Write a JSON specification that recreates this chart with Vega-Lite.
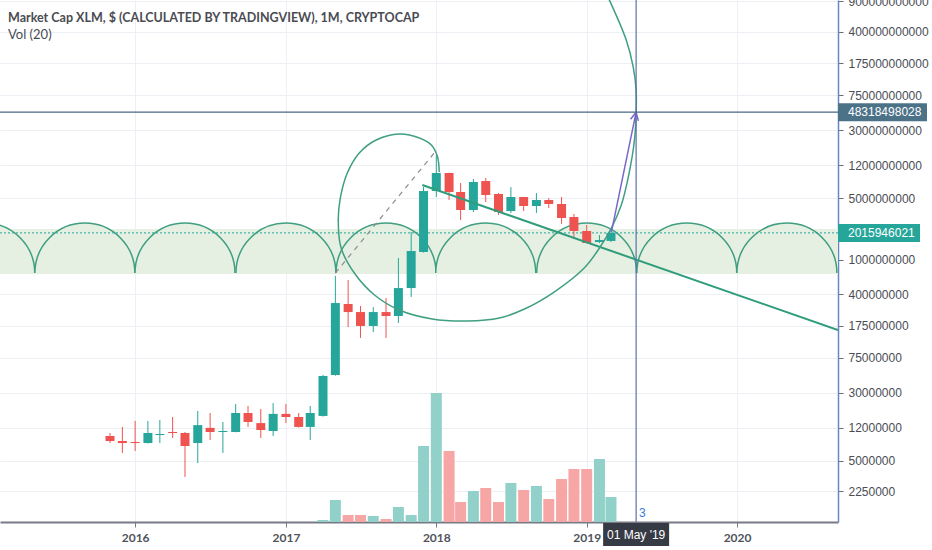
{
  "$schema": "https://vega.github.io/schema/vega-lite/v6.json",
  "width": 838,
  "height": 522,
  "autosize": "none",
  "padding": {"left": 0, "top": 0, "right": 94, "bottom": 28},
  "background": "white",
  "title": {
    "text": "Market Cap XLM, $ (CALCULATED BY TRADINGVIEW), 1M, CRYPTOCAP",
    "subtitle": "Vol (20)",
    "anchor": "start",
    "frame": "group",
    "offset": -47,
    "dx": 8,
    "font": "Lato",
    "fontSize": 12.5,
    "fontWeight": "bold",
    "color": "#4a4c52",
    "subtitleFont": "Lato",
    "subtitleFontSize": 13,
    "subtitleColor": "#4a4c52",
    "subtitlePadding": 5
  },
  "config": {
    "view": {"stroke": null},
    "axis": {"gridColor": "#eceff4", "gridWidth": 1}
  },
  "datasets": {
    "candles": [
      {"date": "2015-11-01", "open": 9610000, "high": 10400000, "low": 7990000, "close": 8430000, "volume": null},
      {"date": "2015-12-01", "open": 8430000, "high": 12200000, "low": 6150000, "close": 7990000, "volume": null},
      {"date": "2016-01-01", "open": 8210000, "high": 14300000, "low": 6480000, "close": 7990000, "volume": null},
      {"date": "2016-02-01", "open": 7990000, "high": 14300000, "low": 7900000, "close": 10400000, "volume": null},
      {"date": "2016-03-01", "open": 9870000, "high": 14650000, "low": 7990000, "close": 10130000, "volume": null},
      {"date": "2016-04-01", "open": 10680000, "high": 15850000, "low": 9120000, "close": 10400000, "volume": null},
      {"date": "2016-05-01", "open": 10400000, "high": 10680000, "low": 3270000, "close": 7390000, "volume": null},
      {"date": "2016-06-01", "open": 7990000, "high": 18600000, "low": 4720000, "close": 12800000, "volume": null},
      {"date": "2016-07-01", "open": 11900000, "high": 17600000, "low": 8650000, "close": 10680000, "volume": null},
      {"date": "2016-08-01", "open": 10680000, "high": 13900000, "low": 6150000, "close": 10960000, "volume": null},
      {"date": "2016-09-01", "open": 10680000, "high": 22300000, "low": 10600000, "close": 17600000, "volume": null},
      {"date": "2016-10-01", "open": 17600000, "high": 21200000, "low": 12200000, "close": 13900000, "volume": null},
      {"date": "2016-11-01", "open": 13500000, "high": 19600000, "low": 9120000, "close": 11250000, "volume": null},
      {"date": "2016-12-01", "open": 10960000, "high": 22900000, "low": 9610000, "close": 17200000, "volume": null},
      {"date": "2017-01-01", "open": 17200000, "high": 22300000, "low": 13500000, "close": 15850000, "volume": null},
      {"date": "2017-02-01", "open": 15850000, "high": 17600000, "low": 12000000, "close": 12200000, "volume": null},
      {"date": "2017-03-01", "open": 12200000, "high": 21200000, "low": 8650000, "close": 17600000, "volume": null},
      {"date": "2017-04-01", "open": 16300000, "high": 48000000, "low": 16000000, "close": 46600000, "volume": 0.4},
      {"date": "2017-05-01", "open": 47900000, "high": 650000000, "low": 47000000, "close": 318000000, "volume": 4.4},
      {"date": "2017-06-01", "open": 310000000, "high": 583000000, "low": 169000000, "close": 251000000, "volume": 1.4},
      {"date": "2017-07-01", "open": 251000000, "high": 294000000, "low": 127000000, "close": 174000000, "volume": 1.4},
      {"date": "2017-08-01", "open": 174000000, "high": 286000000, "low": 148000000, "close": 251000000, "volume": 1.2},
      {"date": "2017-09-01", "open": 251000000, "high": 363000000, "low": 127000000, "close": 226000000, "volume": 0.6},
      {"date": "2017-10-01", "open": 226000000, "high": 1040000000, "low": 188000000, "close": 472000000, "volume": 3.0},
      {"date": "2017-11-01", "open": 472000000, "high": 2060000000, "low": 373000000, "close": 1250000000, "volume": 1.4},
      {"date": "2017-12-01", "open": 1220000000, "high": 6740000000, "low": 1200000000, "close": 6060000000, "volume": 15.2},
      {"date": "2018-01-01", "open": 6060000000, "high": 15640000000, "low": 5180000000, "close": 9740000000, "volume": 25.8},
      {"date": "2018-02-01", "open": 9740000000, "high": 9800000000, "low": 4790000000, "close": 5910000000, "volume": 14.2},
      {"date": "2018-03-01", "open": 5910000000, "high": 7490000000, "low": 2830000000, "close": 3680000000, "volume": 4.0},
      {"date": "2018-04-01", "open": 3680000000, "high": 8320000000, "low": 3490000000, "close": 7690000000, "volume": 6.2},
      {"date": "2018-05-01", "open": 7890000000, "high": 8540000000, "low": 4540000000, "close": 5460000000, "volume": 6.8},
      {"date": "2018-06-01", "open": 5610000000, "high": 5750000000, "low": 3230000000, "close": 3490000000, "volume": 4.0},
      {"date": "2018-07-01", "open": 3580000000, "high": 6740000000, "low": 3400000000, "close": 5180000000, "volume": 7.8},
      {"date": "2018-08-01", "open": 5180000000, "high": 5200000000, "low": 3580000000, "close": 4090000000, "volume": 6.4},
      {"date": "2018-09-01", "open": 4090000000, "high": 5750000000, "low": 3400000000, "close": 4790000000, "volume": 7.2},
      {"date": "2018-10-01", "open": 4790000000, "high": 5040000000, "low": 3880000000, "close": 4310000000, "volume": 4.6},
      {"date": "2018-11-01", "open": 4310000000, "high": 5180000000, "low": 2550000000, "close": 2980000000, "volume": 8.6},
      {"date": "2018-12-01", "open": 3060000000, "high": 3310000000, "low": 1810000000, "close": 2120000000, "volume": 10.6},
      {"date": "2019-01-01", "open": 2120000000, "high": 2480000000, "low": 1530000000, "close": 1544000000, "volume": 10.6},
      {"date": "2019-02-01", "open": 1585000000, "high": 1905000000, "low": 1544000000, "close": 1670000000, "volume": 12.6},
      {"date": "2019-03-01", "open": 1630000000, "high": 2170000000, "low": 1585000000, "close": 2015946021, "volume": 5.0}
    ],
    "band": [{"top": 2232000000, "bottom": 685000000}],
    "cycles": [
      {"date": "2015-01-01", "value": 700000000},
      {"date": "2015-09-01", "value": 700000000},
      {"date": "2016-05-01", "value": 700000000},
      {"date": "2017-01-01", "value": 700000000},
      {"date": "2017-09-01", "value": 700000000},
      {"date": "2018-05-01", "value": 700000000},
      {"date": "2019-01-01", "value": 700000000},
      {"date": "2019-09-01", "value": 700000000},
      {"date": "2020-05-01", "value": 700000000}
    ],
    "lastPrice": [{"value": 2015946021, "label": "2015946021", "kind": "last"}],
    "trend": [
      {"date": "2017-11-28", "value": 7100000000},
      {"date": "2020-09-02", "value": 156400000}
    ],
    "dashed": [
      {"date": "2017-05-01", "value": 701000000},
      {"date": "2017-12-29", "value": 16930000000}
    ],
    "arc": [
      {"i": 1, "date": "2018-01-08", "value": 10000000000},
      {"i": 2, "date": "2018-01-04", "value": 14840000000},
      {"i": 3, "date": "2017-12-20", "value": 20350000000},
      {"i": 4, "date": "2017-11-21", "value": 24470000000},
      {"i": 5, "date": "2017-10-03", "value": 27180000000},
      {"i": 6, "date": "2017-08-08", "value": 23210000000},
      {"i": 7, "date": "2017-06-28", "value": 16490000000},
      {"i": 8, "date": "2017-05-30", "value": 9740000000},
      {"i": 9, "date": "2017-05-13", "value": 5040000000},
      {"i": 10, "date": "2017-05-08", "value": 2830000000},
      {"i": 11, "date": "2017-05-15", "value": 1353000000},
      {"i": 12, "date": "2017-06-16", "value": 701000000},
      {"i": 13, "date": "2017-08-04", "value": 393000000},
      {"i": 14, "date": "2017-10-03", "value": 264700000},
      {"i": 15, "date": "2017-12-22", "value": 208900000},
      {"i": 16, "date": "2018-03-17", "value": 198200000},
      {"i": 17, "date": "2018-06-03", "value": 214500000},
      {"i": 18, "date": "2018-08-03", "value": 271900000},
      {"i": 19, "date": "2018-10-14", "value": 425000000},
      {"i": 20, "date": "2018-12-26", "value": 799000000},
      {"i": 21, "date": "2019-02-01", "value": 1353000000},
      {"i": 22, "date": "2019-03-02", "value": 2290000000},
      {"i": 23, "date": "2019-03-26", "value": 4196000000},
      {"i": 24, "date": "2019-04-14", "value": 9740000000},
      {"i": 25, "date": "2019-04-27", "value": 23210000000},
      {"i": 26, "date": "2019-05-01", "value": 47240000000},
      {"i": 27, "date": "2019-05-01", "value": 86500000000},
      {"i": 28, "date": "2019-04-24", "value": 158500000000},
      {"i": 29, "date": "2019-04-07", "value": 322600000000},
      {"i": 30, "date": "2019-02-25", "value": 924000000000},
      {"i": 31, "date": "2019-02-01", "value": 1564000000000}
    ],
    "arrow": [
      {"date": "2019-03-02", "value": 2060000000},
      {"date": "2019-05-01", "value": 48318498028}
    ],
    "cross": [{"date": "2019-05-01", "value": 48318498028, "label": "48318498028", "timeLabel": "01 May '19", "kind": "cross"}],
    "note": [{"date": "2019-05-01", "value": 1270000, "text": "3"}]
  },
  "layer": [
    {
      "data": {"name": "candles"},
      "mark": {"type": "bar", "size": 11},
      "encoding": {
        "x": {
          "field": "date", "type": "temporal", "title": null,
          "scale": {"type": "utc", "domain": [{"year": 2015, "month": 2, "date": 7, "utc": true}, {"year": 2020, "month": 9, "date": 2, "utc": true}], "nice": false, "padding": 0},
          "axis": {
            "values": [
              {"year": 2016, "month": 1, "date": 1, "utc": true},
              {"year": 2017, "month": 1, "date": 1, "utc": true},
              {"year": 2018, "month": 1, "date": 1, "utc": true},
              {"year": 2019, "month": 1, "date": 1, "utc": true},
              {"year": 2020, "month": 1, "date": 1, "utc": true}
            ],
            "format": "%Y", "grid": true, "tickSize": 5, "labelPadding": 5,
            "labelFont": "Lato", "labelFontWeight": "bold", "labelFontSize": 12, "labelColor": "#50535c",
            "domainColor": "#787b86", "domainWidth": 2, "tickColor": "#787b86", "labelFlush": false
          }
        },
        "y": {"field": "volume", "type": "quantitative", "scale": {"domain": [0, 104.4], "nice": false, "zero": true}, "axis": null},
        "color": {"condition": {"test": "datum.close >= datum.open", "value": "#91d1c9"}, "value": "#f6a7a5"}
      }
    },
    {
      "layer": [
        {
          "data": {"name": "band"},
          "mark": {"type": "rect", "color": "#e5efe2"},
          "encoding": {
            "y": {"field": "top", "type": "quantitative", "title": null, "scale": {"type": "log", "domain": [1000000, 925000000000], "nice": false},
              "axis": {
                "orient": "right",
                "values": [900000000000, 400000000000, 175000000000, 75000000000, 30000000000, 12000000000, 5000000000, 1000000000, 400000000, 175000000, 75000000, 30000000, 12000000, 5000000, 2250000],
                "format": "d", "grid": true, "tickSize": 5, "labelPadding": 5,
                "labelFont": "Liberation Sans", "labelFontSize": 12, "labelColor": "#4a4d55",
                "domainColor": "#6a86c2", "domainWidth": 1.5, "tickColor": "#6b6e78",
                "labelOverlap": false, "labelBound": false
              }
            },
            "y2": {"field": "bottom"}
          }
        },
        {
          "data": {"name": "cycles"},
          "mark": {"type": "point", "shape": "M -50,0 C -50,-27.6 -27.6,-50 0,-50 C 27.6,-50 50,-27.6 50,0", "size": 4, "filled": true, "fill": "#e5efe2", "stroke": "#3f9f80", "strokeWidth": 1.5, "opacity": 1, "clip": true},
          "encoding": {
            "x": {"field": "date", "type": "temporal", "title": null, "scale": {"type": "utc", "domain": [{"year": 2015, "month": 2, "date": 7, "utc": true}, {"year": 2020, "month": 9, "date": 2, "utc": true}], "nice": false, "padding": 0}},
            "y": {"field": "value", "type": "quantitative", "title": null, "scale": {"type": "log", "domain": [1000000, 925000000000], "nice": false}}
          }
        },
        {
          "data": {"name": "lastPrice"},
          "mark": {"type": "rule", "color": "#26a69a", "strokeWidth": 1, "strokeDash": [2, 2]},
          "encoding": {
            "y": {"field": "value", "type": "quantitative", "title": null, "scale": {"type": "log", "domain": [1000000, 925000000000], "nice": false}}
          }
        },
        {
          "data": {"name": "candles"},
          "mark": {"type": "rule", "strokeWidth": 1},
          "encoding": {
            "x": {"field": "date", "type": "temporal", "title": null, "scale": {"type": "utc", "domain": [{"year": 2015, "month": 2, "date": 7, "utc": true}, {"year": 2020, "month": 9, "date": 2, "utc": true}], "nice": false, "padding": 0}},
            "y": {"field": "low", "type": "quantitative", "title": null, "scale": {"type": "log", "domain": [1000000, 925000000000], "nice": false}},
            "y2": {"field": "high"},
            "color": {"condition": {"test": "datum.close >= datum.open", "value": "#26a69a"}, "value": "#ef5350"}
          }
        },
        {
          "data": {"name": "candles"},
          "mark": {"type": "bar", "size": 9},
          "encoding": {
            "x": {"field": "date", "type": "temporal", "title": null, "scale": {"type": "utc", "domain": [{"year": 2015, "month": 2, "date": 7, "utc": true}, {"year": 2020, "month": 9, "date": 2, "utc": true}], "nice": false, "padding": 0}},
            "y": {"field": "open", "type": "quantitative", "title": null, "scale": {"type": "log", "domain": [1000000, 925000000000], "nice": false}},
            "y2": {"field": "close"},
            "color": {"condition": {"test": "datum.close >= datum.open", "value": "#26a69a"}, "value": "#ef5350"}
          }
        },
        {
          "data": {"name": "trend"},
          "mark": {"type": "line", "color": "#2f9c7c", "strokeWidth": 2, "clip": true},
          "encoding": {
            "x": {"field": "date", "type": "temporal", "title": null, "scale": {"type": "utc", "domain": [{"year": 2015, "month": 2, "date": 7, "utc": true}, {"year": 2020, "month": 9, "date": 2, "utc": true}], "nice": false, "padding": 0}},
            "y": {"field": "value", "type": "quantitative", "title": null, "scale": {"type": "log", "domain": [1000000, 925000000000], "nice": false}}
          }
        },
        {
          "data": {"name": "dashed"},
          "mark": {"type": "line", "color": "#8c8c8c", "strokeWidth": 1.2, "strokeDash": [5, 5], "clip": true},
          "encoding": {
            "x": {"field": "date", "type": "temporal", "title": null, "scale": {"type": "utc", "domain": [{"year": 2015, "month": 2, "date": 7, "utc": true}, {"year": 2020, "month": 9, "date": 2, "utc": true}], "nice": false, "padding": 0}},
            "y": {"field": "value", "type": "quantitative", "title": null, "scale": {"type": "log", "domain": [1000000, 925000000000], "nice": false}}
          }
        },
        {
          "data": {"name": "arc"},
          "mark": {"type": "line", "color": "#3f9f80", "strokeWidth": 1.5, "interpolate": "catmull-rom", "clip": true},
          "encoding": {
            "x": {"field": "date", "type": "temporal", "title": null, "scale": {"type": "utc", "domain": [{"year": 2015, "month": 2, "date": 7, "utc": true}, {"year": 2020, "month": 9, "date": 2, "utc": true}], "nice": false, "padding": 0}},
            "y": {"field": "value", "type": "quantitative", "title": null, "scale": {"type": "log", "domain": [1000000, 925000000000], "nice": false}},
            "order": {"field": "i", "type": "quantitative"}
          }
        },
        {
          "data": {"name": "arrow"},
          "mark": {"type": "line", "color": "#7a68c9", "strokeWidth": 1.5, "clip": true},
          "encoding": {
            "x": {"field": "date", "type": "temporal", "title": null, "scale": {"type": "utc", "domain": [{"year": 2015, "month": 2, "date": 7, "utc": true}, {"year": 2020, "month": 9, "date": 2, "utc": true}], "nice": false, "padding": 0}},
            "y": {"field": "value", "type": "quantitative", "title": null, "scale": {"type": "log", "domain": [1000000, 925000000000], "nice": false}}
          }
        },
        {
          "data": {"name": "cross"},
          "mark": {"type": "point", "shape": "M -4,8 L 0,0 L 4,8", "size": 4, "filled": false, "stroke": "#7a68c9", "strokeWidth": 1.5, "opacity": 1, "angle": 12},
          "encoding": {
            "x": {"field": "date", "type": "temporal", "title": null, "scale": {"type": "utc", "domain": [{"year": 2015, "month": 2, "date": 7, "utc": true}, {"year": 2020, "month": 9, "date": 2, "utc": true}], "nice": false, "padding": 0}},
            "y": {"field": "value", "type": "quantitative", "title": null, "scale": {"type": "log", "domain": [1000000, 925000000000], "nice": false}}
          }
        },
        {
          "data": {"name": "cross"},
          "mark": {"type": "rule", "color": "#5b70a8", "strokeWidth": 1.2},
          "encoding": {
            "x": {"field": "date", "type": "temporal", "title": null, "scale": {"type": "utc", "domain": [{"year": 2015, "month": 2, "date": 7, "utc": true}, {"year": 2020, "month": 9, "date": 2, "utc": true}], "nice": false, "padding": 0}}
          }
        },
        {
          "data": {"name": "cross"},
          "mark": {"type": "rule", "color": "#4a6785", "strokeWidth": 1.2},
          "encoding": {
            "y": {"field": "value", "type": "quantitative", "title": null, "scale": {"type": "log", "domain": [1000000, 925000000000], "nice": false}}
          }
        },
        {
          "data": {"name": "note"},
          "mark": {"type": "text", "color": "#3d7ad6", "font": "Liberation Sans", "fontSize": 12, "align": "left", "baseline": "middle", "dx": 3},
          "encoding": {
            "x": {"field": "date", "type": "temporal", "title": null, "scale": {"type": "utc", "domain": [{"year": 2015, "month": 2, "date": 7, "utc": true}, {"year": 2020, "month": 9, "date": 2, "utc": true}], "nice": false, "padding": 0}},
            "y": {"field": "value", "type": "quantitative", "title": null, "scale": {"type": "log", "domain": [1000000, 925000000000], "nice": false}},
            "text": {"field": "text"}
          }
        },
        {
          "data": {"name": "cross"},
          "mark": {"type": "point", "shape": "M 0,-9 L 89,-9 L 89,9 L 0,9 Z", "size": 4, "filled": true, "color": "#4c7288", "opacity": 1},
          "encoding": {
            "x": {"datum": {"year": 2020, "month": 9, "date": 2, "utc": true}, "type": "temporal"},
            "y": {"field": "value", "type": "quantitative", "title": null, "scale": {"type": "log", "domain": [1000000, 925000000000], "nice": false}}
          }
        },
        {
          "data": {"name": "lastPrice"},
          "mark": {"type": "point", "shape": "M 0,-9 L 82,-9 L 82,9 L 0,9 Z", "size": 4, "filled": true, "color": "#26a69a", "opacity": 1},
          "encoding": {
            "x": {"datum": {"year": 2020, "month": 9, "date": 2, "utc": true}, "type": "temporal"},
            "y": {"field": "value", "type": "quantitative", "title": null, "scale": {"type": "log", "domain": [1000000, 925000000000], "nice": false}}
          }
        },
        {
          "data": {"name": "cross"},
          "mark": {"type": "text", "color": "white", "font": "Liberation Sans", "fontSize": 12, "align": "left", "baseline": "middle", "dx": 10},
          "encoding": {
            "x": {"datum": {"year": 2020, "month": 9, "date": 2, "utc": true}, "type": "temporal"},
            "y": {"field": "value", "type": "quantitative", "title": null, "scale": {"type": "log", "domain": [1000000, 925000000000], "nice": false}},
            "text": {"field": "label"}
          }
        },
        {
          "data": {"name": "lastPrice"},
          "mark": {"type": "text", "color": "white", "font": "Liberation Sans", "fontSize": 12, "align": "left", "baseline": "middle", "dx": 10},
          "encoding": {
            "x": {"datum": {"year": 2020, "month": 9, "date": 2, "utc": true}, "type": "temporal"},
            "y": {"field": "value", "type": "quantitative", "title": null, "scale": {"type": "log", "domain": [1000000, 925000000000], "nice": false}},
            "text": {"field": "label"}
          }
        },
        {
          "data": {"name": "cross"},
          "mark": {"type": "point", "shape": "M -33,1 L 33,1 L 33,24 L -33,24 Z", "size": 4, "filled": true, "color": "#363a45", "opacity": 1},
          "encoding": {
            "x": {"field": "date", "type": "temporal", "title": null, "scale": {"type": "utc", "domain": [{"year": 2015, "month": 2, "date": 7, "utc": true}, {"year": 2020, "month": 9, "date": 2, "utc": true}], "nice": false, "padding": 0}},
            "y": {"datum": 1000000, "type": "quantitative", "scale": {"type": "log", "domain": [1000000, 925000000000], "nice": false}}
          }
        },
        {
          "data": {"name": "cross"},
          "mark": {"type": "text", "color": "white", "font": "Liberation Sans", "fontSize": 12, "align": "center", "baseline": "middle", "dy": 13},
          "encoding": {
            "x": {"field": "date", "type": "temporal", "title": null, "scale": {"type": "utc", "domain": [{"year": 2015, "month": 2, "date": 7, "utc": true}, {"year": 2020, "month": 9, "date": 2, "utc": true}], "nice": false, "padding": 0}},
            "y": {"datum": 1000000, "type": "quantitative", "scale": {"type": "log", "domain": [1000000, 925000000000], "nice": false}},
            "text": {"field": "timeLabel"}
          }
        }
      ]
    }
  ],
  "resolve": {"scale": {"y": "independent"}}
}
